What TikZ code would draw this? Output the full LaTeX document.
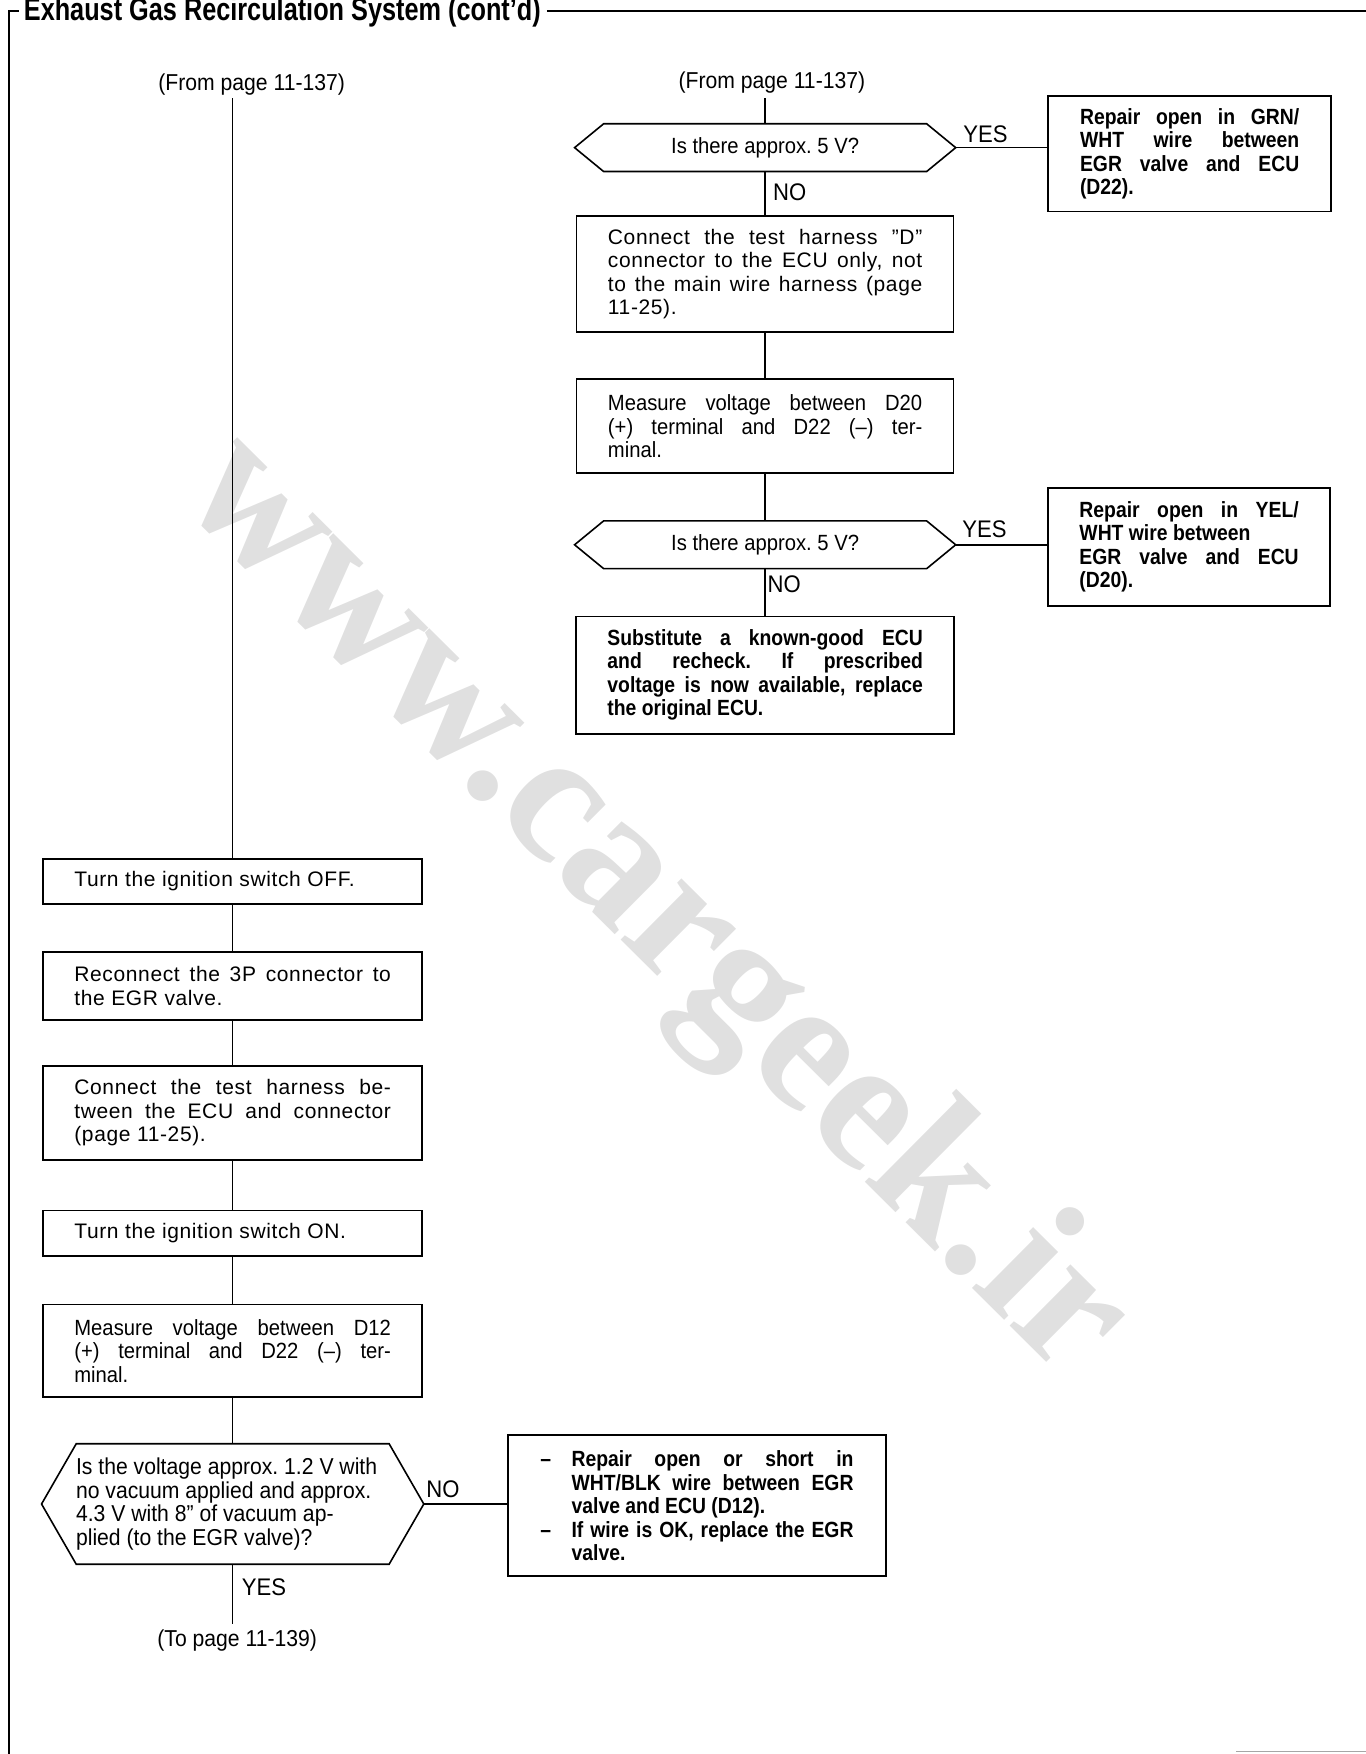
\documentclass[tikz,border=0pt]{standalone}
\usepackage{fontspec}
\defaultfontfeatures{Ligatures=TeX}
\setmainfont{Liberation Sans}
\newfontfamily\widefont[Ligatures=TeX, LetterSpace=3]{Liberation Sans}
\newfontfamily\condfont[Ligatures=TeX, FakeStretch=0.92]{Liberation Sans}
\newfontfamily\condbold[Ligatures=TeX, FakeStretch=0.88]{Liberation Sans Bold}
\newfontfamily\headfont[Ligatures=TeX, FakeStretch=0.79]{Liberation Sans Bold}
\newfontfamily\markfont{Liberation Serif Bold}

% drawing unit: one grid step
\newdimen\px \px=0.55938pt

% one justified (stretched) line of box text
\newcommand{\jl}[1]{\makebox[\linewidth][s]{#1}\\}
\newcommand{\bodywide}{\widefont\fontsize{10.5}{11.75}\selectfont}
\newcommand{\bodycond}{\condfont\fontsize{11}{11.75}\selectfont}
\newcommand{\bodybold}{\condbold\fontsize{11}{11.75}\selectfont}

% hexagonal decision outline around a node, #2 = depth of the pointed ends
\newcommand{\hexframe}[2]{%
  \draw[boxline] (#1.west) -- ([xshift=#2*\px]#1.north west)
    -- ([xshift=-#2*\px]#1.north east) -- (#1.east)
    -- ([xshift=-#2*\px]#1.south east) -- ([xshift=#2*\px]#1.south west) -- cycle;}

\tikzset{
  frame/.style={line width=1.1pt},
  boxline/.style={draw, line width=0.8pt},
  link/.style={line width=0.75pt},
  stepbox/.style 2 args={boxline, rectangle, inner sep=0pt,
    minimum width=#1*\px, minimum height=#2*\px},
  decision/.style 2 args={rectangle, inner sep=0pt,
    minimum width=#1*\px, minimum height=#2*\px},
  plain/.style={inner sep=0pt},
  answer/.style={inner sep=0pt, font=\condfont\fontsize{12}{12}\selectfont},
  pageref/.style={inner sep=0pt, font=\condfont\fontsize{11.5}{12}\selectfont},
}

\frenchspacing
\begin{document}
\begin{tikzpicture}[x=0.55938pt, y=-0.55938pt]
\useasboundingbox (0,0) rectangle (1221,1568);

% background watermark
\node[rotate=-44.8, text=black!12, inner sep=0pt,
      font=\markfont\fontsize{94}{94}\selectfont] (mark) at (583,812) {www.cargeek.ir};

% page frame and heading
\node[plain, anchor=base west, font=\headfont\fontsize{16}{16}\selectfont]
  (head) at (21,18) {Exhaust Gas Recirculation System (cont'd)};
\coordinate (ftl) at (8,10);
\coordinate (ftr) at (1221,10);
\coordinate (fbl) at (8,1568);
\draw[frame] (fbl) -- (ftl) -- ++(9,0);
\draw[frame] ([xshift=5*\px]head.east |- ftl) -- (ftr);
\coordinate (fbr1) at (1105,1566);
\coordinate (fbr2) at (1221,1566);
\draw[gray!70, line width=0.7pt] (fbr1) -- (fbr2);

% ---------------- right branch ----------------
\node[pageref] (fromR) at (690,74) {(From page 11-137)};
\coordinate (fromRend) at (684,88);

\node[decision={340}{42}] (q1) at (684,132)
  {\condfont\fontsize{11}{12}\selectfont Is there approx. 5 V?};
\hexframe{q1}{26}

\node[stepbox={253}{103}] (r1) at (1063.5,137.5)
  {\parbox{196\px}{\bodybold
   \jl{Repair open in GRN/}\jl{WHT wire between}\jl{EGR valve and ECU}(D22).}};

\node[stepbox={337}{104}] (c1) at (684,245)
  {\parbox{281\px}{\bodywide
   \jl{Connect the test harness ”D”}\jl{connector to the ECU only, not}%
   \jl{to the main wire harness (page}11-25).}};

\node[stepbox={337}{84}] (m1) at (684,381)
  {\parbox{281\px}{\bodycond
   \jl{Measure voltage between D20}\jl{(+) terminal and D22 (–) ter-}minal.}};

\node[decision={340}{42}] (q2) at (684,487)
  {\condfont\fontsize{11}{12}\selectfont Is there approx. 5 V?};
\hexframe{q2}{26}

\node[stepbox={252}{106}] (r2) at (1063,489)
  {\parbox{196\px}{\bodybold
   \jl{Repair open in YEL/}WHT wire between\\\jl{EGR valve and ECU}(D20).}};

\node[stepbox={338}{105}] (s1) at (684,603.5)
  {\parbox{282\px}{\bodybold
   \jl{Substitute a known-good ECU}\jl{and recheck. If prescribed}%
   \jl{voltage is now available, replace}the original ECU.}};

\node[answer] (yes1) at (881,120) {YES};
\node[answer] (no1) at (706,172) {NO};
\node[answer] (yes2) at (880,473) {YES};
\node[answer] (no2) at (701,522) {NO};

\draw[link] (fromRend) -- (q1.north);
\draw[link] (q1.east) -- (q1.east -| r1.west);
\draw[link] (q1.south) -- (c1.north);
\draw[link] (c1.south) -- (m1.north);
\draw[link] (m1.south) -- (q2.north);
\draw[link] (q2.east) -- (q2.east -| r2.west);
\draw[link] (q2.south) -- (s1.north);

% ---------------- left branch ----------------
\node[pageref] (fromL) at (225,76) {(From page 11-137)};
\coordinate (fromLend) at (208,88);

\node[stepbox={339}{40}] (t1) at (208,788)
  {\parbox{283\px}{\bodywide Turn the ignition switch OFF.}};
\node[stepbox={339}{61}] (t2) at (208,881.5)
  {\parbox{283\px}{\bodywide \jl{Reconnect the 3P connector to}the EGR valve.}};
\node[stepbox={339}{84}] (t3) at (208,995)
  {\parbox{283\px}{\bodywide
   \jl{Connect the test harness be-}\jl{tween the ECU and connector}(page 11-25).}};
\node[stepbox={339}{41}] (t4) at (208,1102.5)
  {\parbox{283\px}{\bodywide Turn the ignition switch ON.}};
\node[stepbox={339}{83}] (t5) at (208,1207.5)
  {\parbox{283\px}{\bodycond
   \jl{Measure voltage between D12}\jl{(+) terminal and D22 (–) ter-}minal.}};

\node[decision={341}{107}] (q3) at (208,1344.5)
  {\parbox{280\px}{\condfont\fontsize{11.5}{11.9}\selectfont
   Is the voltage approx. 1.2 V with\\no vacuum applied and approx.\\%
   4.3 V with 8” of vacuum ap-\\plied (to the EGR valve)?}};
\hexframe{q3}{31}

\node[stepbox={338}{126}] (r3) at (623,1346)
  {\parbox{280\px}{\bodybold
   \makebox[28\px][l]{–}\makebox[252\px][s]{Repair open or short in}\\
   \hspace*{28\px}\makebox[252\px][s]{WHT/BLK wire between EGR}\\
   \hspace*{28\px}valve and ECU (D12).\\
   \makebox[28\px][l]{–}\makebox[252\px][s]{If wire is OK, replace the EGR}\\
   \hspace*{28\px}valve.}};

\node[answer] (no3) at (396,1331) {NO};
\node[answer] (yes3) at (236,1419) {YES};

\node[pageref] (toL) at (212,1467) {(To page 11-139)};
\coordinate (toLend) at (208,1452);

\draw[link] (fromLend) -- (t1.north);
\draw[link] (t1.south) -- (t2.north);
\draw[link] (t2.south) -- (t3.north);
\draw[link] (t3.south) -- (t4.north);
\draw[link] (t4.south) -- (t5.north);
\draw[link] (t5.south) -- (q3.north);
\draw[link] (q3.east) -- (q3.east -| r3.west);
\draw[link] (q3.south) -- (toLend);
\end{tikzpicture}
\end{document}
